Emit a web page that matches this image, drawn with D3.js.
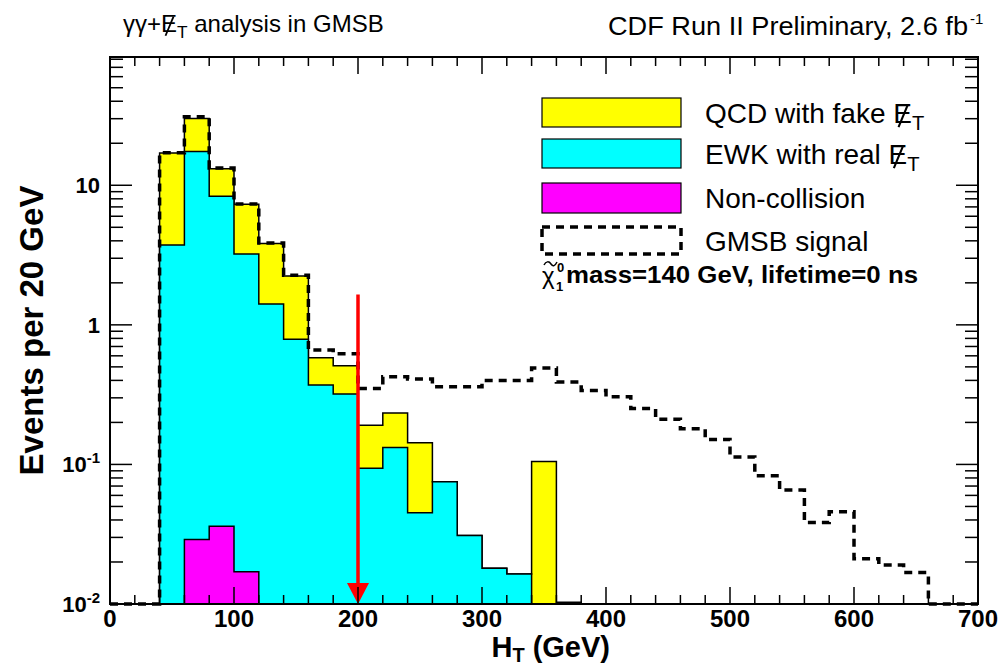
<!DOCTYPE html>
<html>
<head>
<meta charset="utf-8">
<script src="https://cdn.jsdelivr.net/npm/d3@7"></script>
<style>
  body { margin: 0; background: #fff; }
  text { font-family: "Liberation Sans", Arial, sans-serif; }
</style>
</head>
<body>
<script>
// H_T bins (low edges, 20 GeV wide)
var binLow = [0, 20, 40, 60, 80, 100, 120, 140, 160, 180, 200, 220, 240, 260, 280, 300, 320,
  340, 360, 380, 400, 420, 440, 460, 480, 500, 520, 540, 560, 580, 600, 620, 640, 660, 680];
var binWidth = 20;

// background components, stacked bottom to top
var nonCollision = [0, 0, 0, 0.029, 0.036, 0.017, 0, 0, 0, 0, 0, 0, 0, 0, 0, 0, 0,
  0, 0, 0, 0, 0, 0, 0, 0, 0, 0, 0, 0, 0, 0, 0, 0, 0, 0];
var ewk = [0, 0, 3.73, 17.4, 8.3, 3.2, 1.41, 0.79, 0.37, 0.32, 0.094, 0.132, 0.045, 0.075, 0.031, 0.018, 0.0164,
  0, 0, 0, 0, 0, 0, 0, 0, 0, 0, 0, 0, 0, 0, 0, 0, 0, 0];
var qcd = [0, 0, 13.3, 12.7, 4.8, 4.1, 2.42, 1.45, 0.21, 0.19, 0.097, 0.102, 0.098, 0, 0, 0, 0,
  0.105, 0.0103, 0, 0, 0, 0, 0, 0, 0, 0, 0, 0, 0, 0, 0, 0, 0, 0];
// GMSB signal (dashed outline)
var signal = [0, 0, 17.1, 31.0, 13.3, 7.35, 3.86, 2.27, 0.66, 0.62, 0.35, 0.425, 0.41, 0.36, 0.36, 0.40, 0.40,
  0.49, 0.389, 0.338, 0.305, 0.252, 0.211, 0.180, 0.151, 0.113, 0.083, 0.0655, 0.0383, 0.0458, 0.0211, 0.0190, 0.0168, 0, 0];

var xTicks = [0, 100, 200, 300, 400, 500, 600, 700];
var yTicks = [0.01, 0.1, 1, 10];
var cutValue = 200;
var arrowTop = 1.65;

var w = 1004;
var h = 667;
var margin = {left: 110, right: 26, top: 57, bottom: 63};

var svg = d3.select("body").append("svg")
    .attr("width", w)
    .attr("height", h);

var x = d3.scaleLinear().domain([0, 700]).range([margin.left, w - margin.right]);
var y = d3.scaleLog().domain([0.01, 83]).range([h - margin.bottom, margin.top]).clamp(true);
var yMin = y.domain()[0];
var y0 = y(yMin);

// stacked cumulative histograms
var rows = binLow.map((b, i) => ({nc: nonCollision[i], ewk: ewk[i], qcd: qcd[i]}));
var stack = d3.stack().keys(["nc", "ewk", "qcd"])(rows);
var colors = {nc: "#ff00ff", ewk: "#00ffff", qcd: "#ffff00"};

function stepPath(vals) {
    var p = d3.path();
    p.moveTo(x(binLow[0]), y0);
    vals.forEach(function(v, i) {
        var yy = y(Math.max(v, yMin));
        p.lineTo(x(binLow[i]), yy);
        p.lineTo(x(binLow[i] + binWidth), yy);
    });
    p.lineTo(x(binLow[binLow.length - 1] + binWidth), y0);
    return p.toString();
}

// draw the total first, then the lower sums on top of it (like THStack)
stack.slice().reverse().forEach(function(layer) {
    svg.append("path")
        .attr("d", stepPath(layer.map(d => d[1])))
        .attr("fill", colors[layer.key])
        .attr("stroke", "#000")
        .attr("stroke-width", 1.5)
        .attr("stroke-linejoin", "miter");
});

// signal
svg.append("path")
    .attr("d", stepPath(signal))
    .attr("fill", "none")
    .attr("stroke", "#000")
    .attr("stroke-width", 3.5)
    .attr("stroke-dasharray", "8,6");

// cut arrow
svg.append("line")
    .attr("x1", x(cutValue)).attr("x2", x(cutValue))
    .attr("y1", y(arrowTop)).attr("y2", y0 - 18)
    .attr("stroke", "#ff0000").attr("stroke-width", 3.5);
svg.append("path")
    .attr("d", "M" + (x(cutValue) - 11) + "," + (y0 - 21) + "L" + (x(cutValue) + 11) + "," + (y0 - 21) + "L" + x(cutValue) + "," + y0 + "Z")
    .attr("fill", "#ff0000");

// frame
var x1 = x.range()[1], yTop = y.range()[1];
svg.append("rect")
    .attr("x", margin.left).attr("y", yTop)
    .attr("width", x1 - margin.left).attr("height", y0 - yTop)
    .attr("fill", "none").attr("stroke", "#000").attr("stroke-width", 2);

// x ticks, bottom and top
var ticks = svg.append("g").attr("stroke", "#000").attr("stroke-width", 1.5);
d3.range(0, 701, 20).forEach(function(v) {
    var len = v % 100 == 0 ? 17 : 9;
    ticks.append("line").attr("x1", x(v)).attr("x2", x(v)).attr("y1", y0).attr("y2", y0 - len);
    ticks.append("line").attr("x1", x(v)).attr("x2", x(v)).attr("y1", yTop).attr("y2", yTop + len);
});
// y ticks, left and right
[0.01, 0.1, 1, 10].forEach(function(dec) {
    for (var k = 1; k < 10; k++) {
        var v = dec * k;
        if (v > y.domain()[1]) break;
        var len = k == 1 ? 22 : 13;
        ticks.append("line").attr("x1", margin.left).attr("x2", margin.left + len).attr("y1", y(v)).attr("y2", y(v));
        ticks.append("line").attr("x1", x1).attr("x2", x1 - len).attr("y1", y(v)).attr("y2", y(v));
    }
});

// tick labels
svg.selectAll(".xLabel").data(xTicks).enter().append("text")
    .attr("class", "xLabel")
    .attr("x", d => x(d)).attr("y", 627)
    .attr("text-anchor", "middle")
    .style("font-size", "24px").style("font-weight", "bold")
    .text(d => d);

yTicks.forEach(function(v) {
    var t = svg.append("text")
        .attr("x", 100).attr("y", y(v) + 8)
        .attr("text-anchor", "end")
        .style("font-size", "22px").style("font-weight", "bold");
    if (v >= 1) {
        t.text(v);
    } else {
        t.append("tspan").text("10");
        t.append("tspan").attr("dy", -9).style("font-size", "15px").text(Math.round(Math.log10(v)));
    }
});

// axis titles
var xt = svg.append("text")
    .attr("x", 610).attr("y", 657)
    .attr("text-anchor", "end")
    .style("font-size", "29px").style("font-weight", "bold");
xt.append("tspan").text("H");
xt.append("tspan").attr("dy", 5).style("font-size", "20px").text("T");
xt.append("tspan").attr("dy", -5).text(" (GeV)");

svg.append("text")
    .attr("transform", "translate(43," + ((yTop + y0) / 2) + ") rotate(-90)")
    .attr("text-anchor", "middle")
    .style("font-size", "33px").style("font-weight", "bold")
    .text("Events per 20 GeV");

// E with subscript T; the slash is drawn as a line over the E afterwards
var slashes = [];
function addMet(t, size) {
    var before = t.text().length;
    t.append("tspan").text("E");
    t.append("tspan").attr("dy", size * 0.25).style("font-size", (size * 0.72) + "px").text("T");
    slashes.push({text: t, index: before, size: size});
    return t;
}
function drawSlashes() {
    slashes.forEach(function(s) {
        var box = s.text.node().getExtentOfChar(s.index);
        var base = box.y + box.height * 0.9;
        svg.append("line")
            .attr("x1", box.x + box.width * 0.28).attr("y1", base + s.size * 0.06)
            .attr("x2", box.x + box.width * 0.78).attr("y2", base - s.size * 0.74)
            .attr("stroke", "#000").attr("stroke-width", s.size * 0.075);
    });
}

// header texts
var t1 = svg.append("text").attr("x", 123).attr("y", 32).style("font-size", "24px");
t1.append("tspan").text("\u03b3\u03b3+");
addMet(t1, 24);
t1.append("tspan").attr("dy", -24 * 0.25).text(" analysis in GMSB");

svg.append("text").attr("x", 608).attr("y", 35)
    .attr("textLength", 360).attr("lengthAdjust", "spacingAndGlyphs")
    .style("font-size", "25px")
    .text("CDF Run II Preliminary, 2.6 fb");
svg.append("text").attr("x", 970).attr("y", 24)
    .style("font-size", "15px").text("-1");

// legend
var legend = [
    {label: "QCD with fake ", met: true, fill: "#ffff00"},
    {label: "EWK with real ", met: true, fill: "#00ffff"},
    {label: "Non-collision", met: false, fill: "#ff00ff"},
    {label: "GMSB signal", met: false, fill: "none", dashed: true}
];
var boxY = [98, 139, 183, 227];
var boxH = [29, 29, 30, 27];
legend.forEach(function(d, i) {
    svg.append("rect")
        .attr("x", 542).attr("y", boxY[i]).attr("width", 139).attr("height", boxH[i])
        .attr("fill", d.fill)
        .attr("stroke", "#000")
        .attr("stroke-width", d.dashed ? 3.5 : 1.2)
        .attr("stroke-dasharray", d.dashed ? "8,6" : null);
    var t = svg.append("text")
        .attr("x", 705).attr("y", boxY[i] + boxH[i] / 2 + 10)
        .style("font-size", "28px");
    t.append("tspan").text(d.label);
    if (d.met) addMet(t, 28);
});

// neutralino line: chi with a tilde drawn as a small curve
var chi = svg.append("g");
chi.append("text").attr("x", 542).attr("y", 284).style("font-size", "24px").text("\u03c7");
chi.append("path")
    .attr("d", "M544,265 C546,261 549,261 551,264 S555,266 557,262")
    .attr("fill", "none").attr("stroke", "#000").attr("stroke-width", 1.5);
chi.append("text").attr("x", 557).attr("y", 272).style("font-size", "13px").style("font-weight", "bold").text("0");
chi.append("text").attr("x", 556).attr("y", 291).style("font-size", "13px").style("font-weight", "bold").text("1");
chi.append("text").attr("x", 566).attr("y", 283)
    .attr("textLength", 352).attr("lengthAdjust", "spacingAndGlyphs")
    .style("font-size", "24px").style("font-weight", "bold")
    .text("mass=140 GeV, lifetime=0 ns");

drawSlashes();
</script>
</body>
</html>
